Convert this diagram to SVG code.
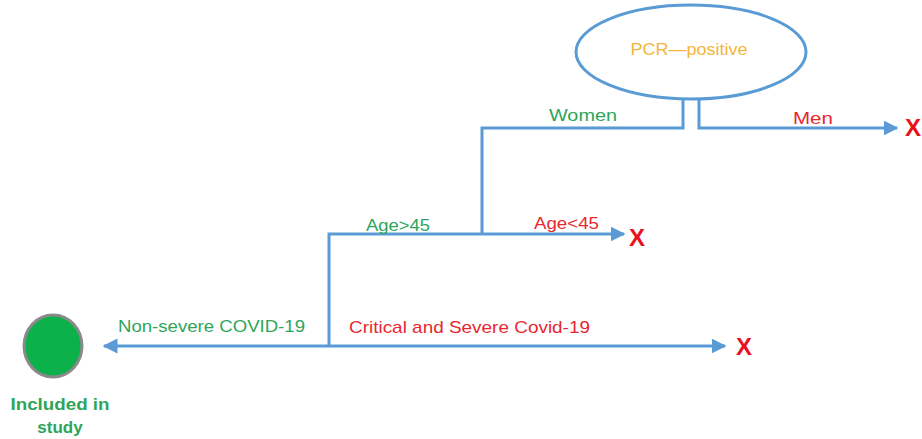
<svg xmlns="http://www.w3.org/2000/svg" width="922" height="439" viewBox="0 0 922 439">
<style>
.ln{fill:none;stroke:#5b9bd5;stroke-width:3}
.t{font-family:"Liberation Sans",Arial,sans-serif;font-size:17px}
.g{fill:#2ea55a}
.r{fill:#e8272e}
.x{font-family:"Liberation Sans",Arial,sans-serif;font-size:24px;font-weight:bold;fill:#e8121c}
</style>
<defs>
<marker id="ah" viewBox="0 0 10 10" refX="9" refY="5" markerWidth="5" markerHeight="5" orient="auto-start-reverse" markerUnits="strokeWidth">
<path d="M0,0 L10,5 L0,10 Z" fill="#5b9bd5"/>
</marker>
</defs>
<rect width="922" height="439" fill="#fff"/>
<g id="pcr">
<ellipse cx="691" cy="52" rx="115" ry="47" fill="#fff" stroke="#5b9bd5" stroke-width="3"/>
<text class="t" x="689" y="55" text-anchor="middle" fill="#f4b63a" textLength="117" lengthAdjust="spacingAndGlyphs">PCR—positive</text>
</g>
<g id="included">
<ellipse cx="53" cy="346" rx="29" ry="31" fill="#0db14b" stroke="#8a8a8a" stroke-width="3"/>
<text class="t g" x="60" y="410" text-anchor="middle" font-weight="bold" textLength="99" lengthAdjust="spacingAndGlyphs">Included in</text>
<text class="t g" x="60" y="433" text-anchor="middle" font-weight="bold">study</text>
</g>
<g id="x-men"><text class="x" x="905" y="136">X</text></g>
<g id="x-age"><text class="x" x="629" y="246">X</text></g>
<g id="x-severe"><text class="x" x="736" y="355">X</text></g>
<g id="connectors">
<path class="ln" d="M683,98 V128 H482 V234"/>
<path class="ln" d="M699,98 V128 H897" marker-end="url(#ah)"/>
<path class="ln" d="M329,346 V234 H624" marker-end="url(#ah)"/>
<path class="ln" d="M329,346 H104" marker-end="url(#ah)"/>
<path class="ln" d="M329,346 H725" marker-end="url(#ah)"/>
</g>
<g id="labels">
<text class="t g" x="549" y="121" textLength="68" lengthAdjust="spacingAndGlyphs">Women</text>
<text class="t r" x="793" y="124" textLength="40" lengthAdjust="spacingAndGlyphs">Men</text>
<text class="t g" x="366" y="231" textLength="64" lengthAdjust="spacingAndGlyphs">Age&gt;45</text>
<text class="t r" x="534" y="229" textLength="65" lengthAdjust="spacingAndGlyphs">Age&lt;45</text>
<text class="t g" x="118" y="332" textLength="187" lengthAdjust="spacingAndGlyphs">Non-severe COVID-19</text>
<text class="t r" x="349" y="333" textLength="241" lengthAdjust="spacingAndGlyphs">Critical and Severe Covid-19</text>
</g>
</svg>
